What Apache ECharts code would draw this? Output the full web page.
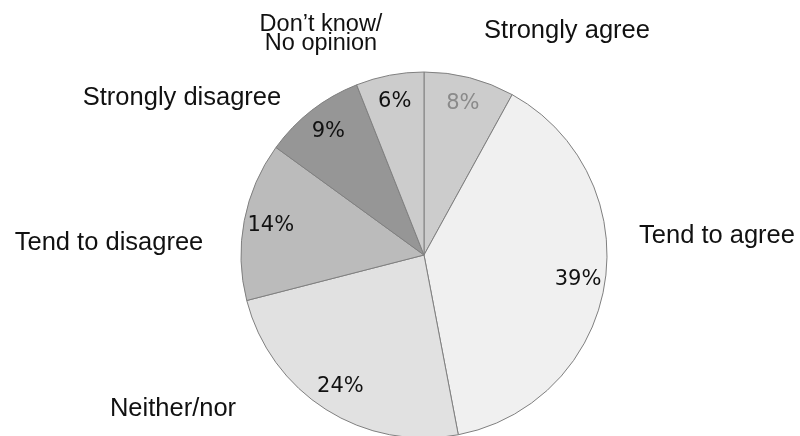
<!DOCTYPE html>
<html>
<head>
<meta charset="utf-8">
<script src="https://cdn.jsdelivr.net/npm/echarts@6/dist/echarts.min.js"></script>
<style>
  html, body { margin: 0; padding: 0; background: #fff; }
  #chart { width: 800px; height: 436px; }
</style>
</head>
<body>
<div id="chart"></div>
<script>
// Survey answers, clockwise from twelve o'clock
const categories = ['Strongly agree', 'Tend to agree', 'Neither/nor', 'Tend to disagree', 'Strongly disagree', 'Don\u2019t know/\nNo opinion'];
const shares = [8, 39, 24, 14, 9, 6];

// Slice fills and percentage text colours
const sliceColors = ['#cccccc', '#f0f0f0', '#e1e1e1', '#bbbbbb', '#969696', '#cccccc'];
const valueTextColors = ['#8a8a8a', '#111111', '#111111', '#111111', '#111111', '#111111'];

// Where each category name sits around the pie (px)
const nameAnchors = [[567, 30.5], [717, 235.5], [173, 408.5], [109, 242.7], [182, 97.7], [321, 34]];

const pieCenter = [424, 255];
const pieRadius = 183;

const chart = echarts.init(document.getElementById('chart'), null, { renderer: 'canvas' });

const sliceData = categories.map((name, i) => ({
  name: name,
  value: shares[i],
  itemStyle: { color: sliceColors[i] },
  label: i === 5 ? { fontSize: 23.5, lineHeight: 19 } : {}
}));

const ringData = categories.map((name, i) => ({
  name: name,
  value: shares[i],
  label: { color: valueTextColors[i] }
}));

chart.setOption({
  animation: false,
  backgroundColor: '#ffffff',
  series: [
    {
      type: 'pie',
      center: pieCenter,
      radius: pieRadius,
      startAngle: 90,
      clockwise: true,
      silent: true,
      data: sliceData,
      itemStyle: { borderColor: '#808080', borderWidth: 1 },
      label: {
        show: true,
        position: 'outside',
        formatter: '{b}',
        fontFamily: 'Liberation Sans, Arial, sans-serif',
        fontSize: 25.5,
        color: '#111111',
        align: 'center',
        overflow: 'none'
      },
      labelLine: { show: false },
      labelLayout: function (params) {
        const p = nameAnchors[params.dataIndex];
        return { x: p[0], y: p[1], align: 'center', verticalAlign: 'middle', hideOverlap: false };
      }
    },
    {
      // transparent ring that carries the percentage labels
      type: 'pie',
      center: pieCenter,
      radius: [123, pieRadius],
      startAngle: 90,
      clockwise: true,
      silent: true,
      data: ringData,
      itemStyle: { color: 'rgba(0,0,0,0)', borderWidth: 0 },
      label: {
        show: true,
        position: 'inside',
        formatter: '{c}%',
        fontFamily: 'DejaVu Sans, sans-serif',
        fontSize: 21
      },
      labelLine: { show: false }
    }
  ]
});
</script>
</body>
</html>
